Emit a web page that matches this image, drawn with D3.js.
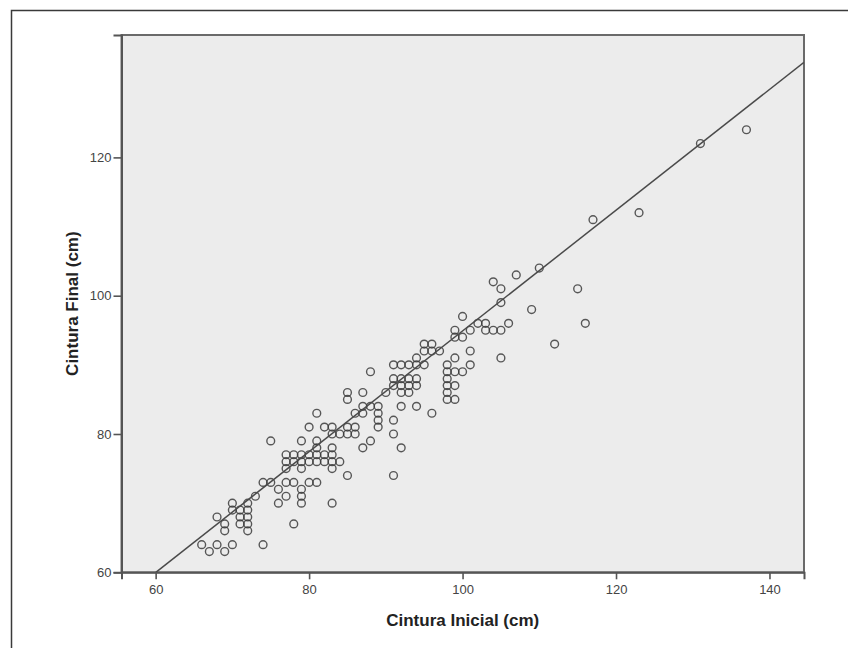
<!DOCTYPE html>
<html lang="pt">
<head>
    <meta charset="UTF-8">
    <title>Cintura Inicial x Cintura Final</title>
    <style>
        body { margin: 0; background: #fff; }
        .tick-label { font: 13px "Liberation Sans", Arial, sans-serif; fill: #444; }
        .axis-title { font: bold 17px "Liberation Sans", Arial, sans-serif; fill: #222; }
    </style>
</head>
<body>
    <div id="chart"></div>
    <script src="https://d3js.org/d3.v7.min.js"></script>
    <script>
        // cintura inicial (x) e cintura final (y), em cm
        const cinturaInicial = [
            137, 131, 117, 123, 115, 116, 112,
            110, 107, 104, 105, 105, 109, 100,
            102, 103, 106,
            99, 101, 103, 104, 105,
            99, 100,
            95, 96,
            95, 96, 97, 101,
            105, 99, 94,
            91, 92, 93, 94, 95, 98, 101,
            98, 99, 100, 88,
            91, 92, 93, 94, 98,
            91, 92, 93, 94, 98, 99,
            92, 93, 90, 98, 85, 87,
            98, 99, 85,
            92, 94, 87, 88, 89,
            96, 86, 87, 81, 89,
            89, 91,
            80, 82, 83, 85, 86, 89,
            83, 84, 85, 86, 91,
            79, 81, 88, 75,
            81, 83, 87, 92,
            77, 78, 79, 80, 81, 82, 83,
            77, 78, 79, 80, 81, 82, 83, 84,
            77, 79, 83,
            85, 91,
            74, 75, 77, 78, 80, 81,
            76, 79,
            73, 77, 79,
            70, 72, 76, 79, 83,
            70, 71, 72,
            68, 71, 72,
            69, 71, 72, 78,
            69, 72,
            66, 68, 70, 74,
            67, 69
        ];
        const cinturaFinal = [
            124, 122, 111, 112, 101, 96, 93,
            104, 103, 102, 101, 99, 98, 97,
            96, 96, 96,
            95, 95, 95, 95, 95,
            94, 94,
            93, 93,
            92, 92, 92, 92,
            91, 91, 91,
            90, 90, 90, 90, 90, 90, 90,
            89, 89, 89, 89,
            88, 88, 88, 88, 88,
            87, 87, 87, 87, 87, 87,
            86, 86, 86, 86, 86, 86,
            85, 85, 85,
            84, 84, 84, 84, 84,
            83, 83, 83, 83, 83,
            82, 82,
            81, 81, 81, 81, 81, 81,
            80, 80, 80, 80, 80,
            79, 79, 79, 79,
            78, 78, 78, 78,
            77, 77, 77, 77, 77, 77, 77,
            76, 76, 76, 76, 76, 76, 76, 76,
            75, 75, 75,
            74, 74,
            73, 73, 73, 73, 73, 73,
            72, 72,
            71, 71, 71,
            70, 70, 70, 70, 70,
            69, 69, 69,
            68, 68, 68,
            67, 67, 67, 67,
            66, 66,
            64, 64, 64, 64,
            63, 63
        ];

        const xTicks = [60, 80, 100, 120, 140];
        const yTicks = [60, 80, 100, 120];

        // reta de ajuste: final = intercepto + inclinacao * inicial
        const intercepto = 7.6;
        const inclinacao = 0.873;

        const xDomain = [55.55, 144.5];
        const yDomain = [60, 137.7];

        const data = cinturaInicial.map((d, i) => ({ ini: d, fin: cinturaFinal[i] }));

        const plot = { left: 121.5, right: 804, top: 35, bottom: 572.3 };

        const svg = d3.select("#chart")
            .append("svg")
            .attr("width", 848)
            .attr("height", 648);

        // moldura externa (cortada na direita e embaixo)
        svg.append("rect")
            .attr("x", 11.5)
            .attr("y", 10.5)
            .attr("width", 900)
            .attr("height", 700)
            .attr("fill", "#fff")
            .attr("stroke", "#3a3a3a")
            .attr("stroke-width", 1.5);

        const x = d3.scaleLinear()
            .domain(xDomain)
            .range([plot.left, plot.right]);

        const y = d3.scaleLinear()
            .domain(yDomain)
            .range([plot.bottom, plot.top]);

        svg.append("rect")
            .attr("x", plot.left)
            .attr("y", plot.top)
            .attr("width", plot.right - plot.left)
            .attr("height", plot.bottom - plot.top)
            .attr("fill", "#ececec")
            .attr("stroke", "#6a6a6a")
            .attr("stroke-width", 2);

        const xAxis = svg.append("g")
            .attr("transform", `translate(0,${plot.bottom})`)
            .call(d3.axisBottom(x).tickValues(xTicks).tickSize(7).tickPadding(5));

        const yAxis = svg.append("g")
            .attr("transform", `translate(${plot.left},0)`)
            .call(d3.axisLeft(y).tickValues(yTicks).tickSize(8).tickPadding(2));

        [xAxis, yAxis].forEach(g => {
            g.select(".domain").attr("stroke", "#555").attr("stroke-width", 2);
            g.selectAll(".tick line").attr("stroke", "#555").attr("stroke-width", 1.6);
            g.selectAll(".tick text").attr("class", "tick-label").attr("fill", null);
        });

        svg.append("clipPath").attr("id", "plot-clip")
            .append("rect")
            .attr("x", plot.left)
            .attr("y", plot.top)
            .attr("width", plot.right - plot.left)
            .attr("height", plot.bottom - plot.top);

        svg.append("g")
            .selectAll("circle")
            .data(data)
            .enter()
            .append("circle")
            .attr("cx", d => x(d.ini))
            .attr("cy", d => y(d.fin))
            .attr("r", 3.9)
            .attr("fill", "none")
            .attr("stroke", "#3c3c3c")
            .attr("stroke-opacity", 0.85)
            .attr("stroke-width", 1.4);

        const xStart = Math.max(xDomain[0], (yDomain[0] - intercepto) / inclinacao);
        const linha = [xStart, xDomain[1]].map(v => ({ ini: v, fin: intercepto + inclinacao * v }));

        svg.append("path")
            .datum(linha)
            .attr("clip-path", "url(#plot-clip)")
            .attr("fill", "none")
            .attr("stroke", "#4a4a4a")
            .attr("stroke-width", 1.5)
            .attr("d", d3.line().x(d => x(d.ini)).y(d => y(d.fin)));

        svg.append("text")
            .attr("class", "axis-title")
            .attr("text-anchor", "middle")
            .attr("x", (plot.left + plot.right) / 2)
            .attr("y", 626)
            .text("Cintura Inicial (cm)");

        svg.append("text")
            .attr("class", "axis-title")
            .attr("text-anchor", "middle")
            .attr("transform", `translate(78,${(plot.top + plot.bottom) / 2}) rotate(-90)`)
            .text("Cintura Final (cm)");
    </script>
</body>
</html>
